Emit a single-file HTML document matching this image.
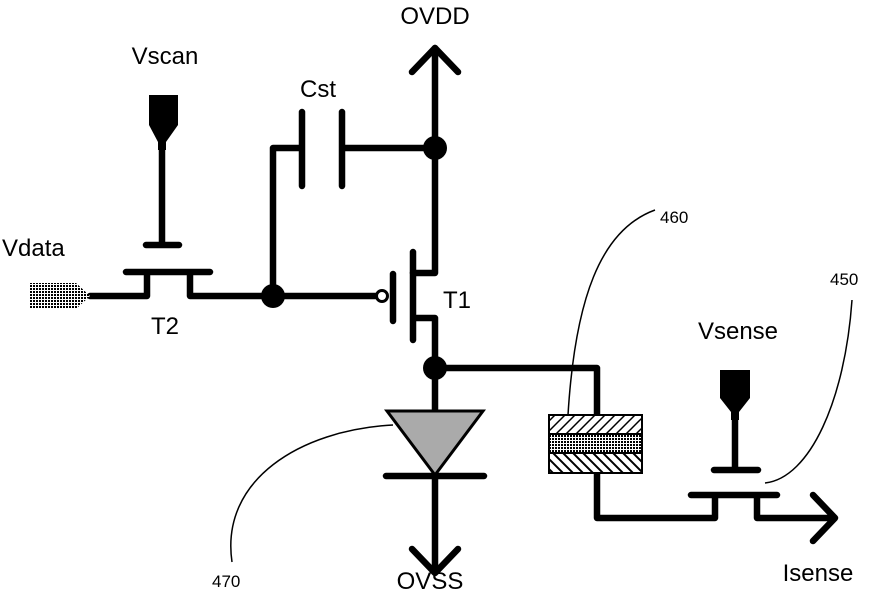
<!DOCTYPE html>
<html><head><style>body{margin:0;background:#fff}svg{display:block}</style></head><body>
<svg width="869" height="599" viewBox="0 0 869 599" xmlns="http://www.w3.org/2000/svg">
<defs>
<pattern id="dots" width="3" height="3" patternUnits="userSpaceOnUse"><rect width="3" height="3" fill="#fff"/><rect width="2" height="2" fill="#000"/></pattern>
<pattern id="h1" width="10" height="10" patternUnits="userSpaceOnUse"><rect width="10" height="10" fill="#fff"/><path d="M-2,12 L12,-2 M-7,7 L7,-7 M3,17 L17,3" stroke="#000" stroke-width="1.5"/></pattern>
<pattern id="h2" width="10" height="10" patternUnits="userSpaceOnUse"><rect width="10" height="10" fill="#fff"/><path d="M-2,-2 L12,12 M-7,3 L7,17 M3,-7 L17,7" stroke="#000" stroke-width="2"/></pattern>
</defs>
<g fill="none" stroke="#000" stroke-width="6.5" stroke-linecap="round" stroke-linejoin="round">
<path d="M435,48 V273 H413"/>
<path d="M412,72 L435,48 L458,72"/>
<path d="M435,148 H342 M342,112 V186 M302,112 V186 M302,148 H273 V296"/>
<path d="M162,150 V243 M146,245 H179 M126,272 H210 M147,272 V296 H90 M190,272 V296 H378"/>
<path d="M393,274 V321 M413,252 V340 M413,318 H435 V410"/>
<path d="M386,476 H484 M435,476 V573 M412,549 L435,573 L458,549"/>
<path d="M435,368 H597 V415 M597,473 V518 H715 V497 M691,495 H777 M714,470 H758 M735,420 V470 M757,497 V518 H830 M813,495 L835,518 L813,541"/>
</g>
<circle cx="435" cy="148" r="12"/>
<circle cx="273" cy="296" r="12"/>
<circle cx="435" cy="368" r="12"/>
<circle cx="382" cy="296" r="5.5" fill="#fff" stroke="#000" stroke-width="3"/>
<path d="M149,95 H178 V125 L166,142 V150 H158 V142 L149,125 Z" fill="#000"/>
<path d="M720,370 H750 V398 L739,412 V420 H731 V412 L720,398 Z" fill="#000"/>
<path d="M30,283 H76 L90,296 L76,309 H30 Z" fill="url(#dots)"/>
<path d="M387,411 H483 L435,475 Z" fill="#aaa" stroke="#000" stroke-width="3"/>
<rect x="549" y="415" width="93" height="19" fill="url(#h1)" stroke="#000" stroke-width="2"/>
<rect x="549" y="434" width="93" height="19" fill="url(#dots)" stroke="#000" stroke-width="2"/>
<rect x="549" y="453" width="93" height="20" fill="url(#h2)" stroke="#000" stroke-width="2"/>
<g fill="none" stroke="#000" stroke-width="1.5">
<path d="M655,210 C600,230 575,300 568,415"/>
<path d="M852,300 C845,400 810,478 765,483"/>
<path d="M232,562 C220,480 300,430 393,425"/>
</g>
<g font-family="Liberation Sans, sans-serif" font-size="24" fill="#000">
<text x="435" y="24" text-anchor="middle">OVDD</text>
<text x="165" y="64" text-anchor="middle">Vscan</text>
<text x="318" y="97" text-anchor="middle">Cst</text>
<text x="2" y="256">Vdata</text>
<text x="165" y="334" text-anchor="middle">T2</text>
<text x="443" y="308">T1</text>
<text x="738" y="339" text-anchor="middle">Vsense</text>
<text x="430" y="589" text-anchor="middle">OVSS</text>
<text x="818" y="581" text-anchor="middle">Isense</text>
</g>
<g font-family="Liberation Sans, sans-serif" font-size="17" fill="#000">
<text x="660" y="223">460</text>
<text x="830" y="285">450</text>
<text x="212" y="587">470</text>
</g>
</svg>
</body></html>
